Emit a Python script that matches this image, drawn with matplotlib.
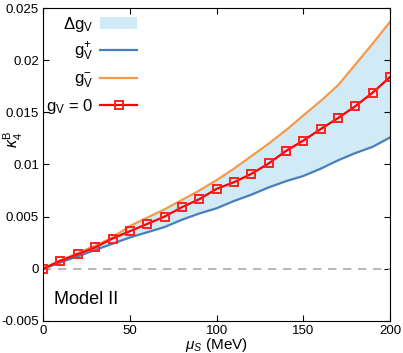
import numpy as np
import matplotlib.pyplot as plt

plt.rcParams['font.family'] = ['Liberation Sans', 'DejaVu Sans']
plt.rcParams['mathtext.fontset'] = 'custom'
plt.rcParams['mathtext.rm'] = 'Liberation Sans'
plt.rcParams['mathtext.it'] = 'Liberation Sans:italic'

mu_s = [0, 10, 20, 30, 40, 50, 60, 70, 80, 90, 100, 110, 120, 130, 140, 150, 160, 170, 180, 190, 200]
k4_gv0 = [0, 0.00077, 0.0014, 0.00205, 0.0029, 0.0036, 0.0043, 0.005, 0.0059, 0.00667, 0.00766,
          0.0083, 0.0091, 0.0101, 0.0113, 0.0123, 0.0134, 0.01445, 0.0156, 0.0169, 0.0184]
k4_plus = [0, 0.0006, 0.0012, 0.0018, 0.0024, 0.003, 0.0035, 0.004, 0.0047, 0.0053, 0.0058,
           0.0065, 0.0071, 0.0078, 0.0084, 0.0089, 0.0096, 0.0104, 0.0111, 0.0117, 0.0126]
k4_minus = [0, 0.0008, 0.0015, 0.0022, 0.003, 0.0041, 0.0049, 0.0057, 0.0066, 0.0075, 0.0085,
            0.0096, 0.0108, 0.012, 0.0133, 0.0147, 0.0161, 0.0176, 0.0196, 0.0216, 0.0237]

fig = plt.figure(figsize=(4.03, 3.53), dpi=100)
ax = fig.add_axes([0.107, 0.091, 0.861, 0.886])

ax.axhline(0, color='#aaaaaa', ls='--', lw=1.2, dashes=(5, 4))
ax.fill_between(mu_s, k4_plus, k4_minus, color='#d0eaf6', lw=0, label=r'$\Delta$g$_{\mathrm{V}}$')
ax.plot(mu_s, k4_plus, color='#4a7ebb', lw=1.6, label=r'g$_{\mathrm{V}}^{+}$')
ax.plot(mu_s, k4_minus, color='#f59a4a', lw=1.6, label=r'g$_{\mathrm{V}}^{-}$')
ax.plot(mu_s, k4_gv0, color='#ff0000', lw=1.6, marker='s', ms=5.5, mfc='none',
        mec='#ff2020', mew=1.4, label=r'g$_{\mathrm{V}}$ = 0')

ax.set_xlim(0, 200)
ax.set_ylim(-0.005, 0.025)
ax.set_xticks([0, 50, 100, 150, 200])
ax.set_yticks([-0.005, 0, 0.005, 0.01, 0.015, 0.02, 0.025])
ax.set_yticklabels(['-0.005', '0', '0.005', '0.01', '0.015', '0.02', '0.025'])
ax.tick_params(direction='in', top=True, right=True, labelsize=9.5, length=4, pad=3)
ax.set_xlabel(r'$\mu_S$ (MeV)', fontsize=11, labelpad=-1)
ax.set_ylabel(r'$\kappa_4^{\mathrm{B}}$', fontsize=11.5, va='center')
ax.yaxis.set_label_coords(-0.085, 0.58)

ax.legend(loc='upper left', frameon=False, markerfirst=False, fontsize=12, numpoints=1,
          handlelength=2.2, handletextpad=0.4, labelspacing=0.42, borderaxespad=0.0,
          bbox_to_anchor=(-0.01, 1.0))
ax.text(0.03, 0.055, 'Model II', transform=ax.transAxes, fontsize=13)

fig.savefig('out.png', dpi=100)
